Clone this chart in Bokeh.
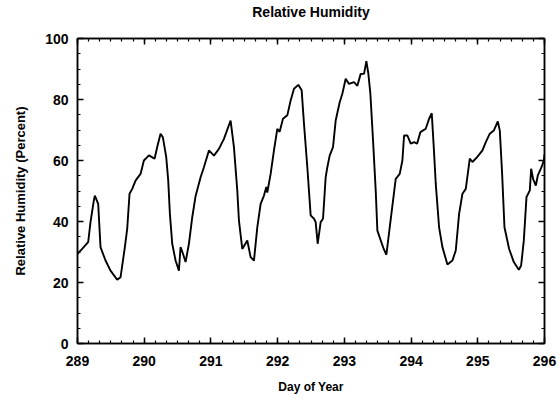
from bokeh.plotting import figure
from bokeh.models import LinearAxis, Range1d, FixedTicker, CustomLabelingPolicy
from bokeh.embed import file_html
from bokeh.resources import INLINE

day = [289.00, 289.07, 289.16, 289.195, 289.245, 289.26, 289.31, 289.345, 289.42, 289.495,
       289.595, 289.645, 289.71, 289.745, 289.78, 289.82, 289.87, 289.945, 289.995, 290.045,
       290.07, 290.155, 290.195, 290.245, 290.28, 290.33, 290.36, 290.385, 290.42, 290.47,
       290.52, 290.545, 290.58, 290.62, 290.67, 290.72, 290.77, 290.845, 290.895, 290.97,
       291.045, 291.12, 291.195, 291.295, 291.345, 291.395, 291.42, 291.47, 291.545, 291.595,
       291.645, 291.695, 291.745, 291.795, 291.83, 291.845, 291.895, 291.945, 291.995, 292.03,
       292.08, 292.145, 292.195, 292.245, 292.31, 292.36, 292.395, 292.445, 292.495, 292.545,
       292.57, 292.60, 292.645, 292.68, 292.72, 292.745, 292.78, 292.83, 292.87, 292.93,
       292.97, 293.02, 293.07, 293.145, 293.195, 293.245, 293.295, 293.33, 293.36, 293.39,
       293.43, 293.47, 293.495, 293.545, 293.59, 293.63, 293.68, 293.73, 293.77, 293.83,
       293.87, 293.895, 293.945, 293.995, 294.045, 294.09, 294.14, 294.22, 294.27, 294.31,
       294.34, 294.37, 294.42, 294.47, 294.545, 294.62, 294.67, 294.72, 294.77, 294.82,
       294.85, 294.88, 294.92, 294.99, 295.07, 295.12, 295.18, 295.24, 295.30, 295.33,
       295.365, 295.40, 295.47, 295.54, 295.615, 295.65, 295.69, 295.73, 295.78, 295.80,
       295.83, 295.87, 295.90, 295.955, 295.99, 296.00]

rh = [29.4, 31.0, 33.2, 39.8, 46.9, 48.5, 45.8, 31.6, 27.2, 23.9,
      20.9, 21.7, 31.6, 37.6, 49.1, 50.7, 53.4, 55.6, 60.0, 61.1,
      61.7, 60.6, 64.4, 68.8, 67.6, 61.1, 53.4, 42.5, 32.7, 27.2,
      23.9, 31.6, 29.5, 26.7, 32.7, 41.4, 48.3, 54.5, 57.8, 63.3,
      61.6, 63.8, 67.1, 73.1, 64.4, 50.2, 40.3, 31.0, 33.8, 28.3,
      27.2, 38.1, 45.8, 48.5, 51.3, 49.5, 55.6, 63.3, 70.4, 69.4,
      73.7, 74.8, 79.7, 83.5, 84.8, 83.0, 72.0, 57.8, 42.0, 40.9,
      39.8, 32.7, 39.8, 40.9, 54.5, 57.8, 61.6, 64.4, 73.1, 79.1,
      81.9, 86.8, 85.1, 85.7, 84.5, 88.4, 88.4, 92.6, 88.4, 81.9,
      66.6, 50.2, 37.0, 33.8, 31.0, 29.1, 38.1, 46.9, 54.0, 55.6,
      60.0, 68.2, 68.2, 65.5, 66.0, 65.5, 69.3, 70.4, 73.7, 75.5,
      64.4, 52.4, 38.1, 31.6, 25.9, 27.2, 30.5, 42.5, 49.1, 50.7,
      55.6, 60.6, 59.5, 61.1, 63.3, 66.0, 68.8, 69.8, 72.8, 69.8,
      55.6, 38.1, 31.0, 26.7, 24.2, 25.6, 33.8, 48.0, 50.2, 57.3,
      53.9, 51.8, 55.1, 57.8, 60.0, 62.0]

x_ticks = [289, 290, 291, 292, 293, 294, 295, 296]
y_ticks = [0, 20, 40, 60, 80, 100]
title_text = "Relative Humidity"

FONT = "Liberation Sans"

p = figure(width=560, height=401, output_backend="svg", toolbar_location=None, title=None,
           x_range=Range1d(289, 296), y_range=Range1d(0, 100),
           min_border_left=77, min_border_right=16, min_border_top=38, min_border_bottom=58,
           x_axis_label="Day of Year", y_axis_label="Relative Humidity (Percent)")
p.xgrid.visible = False
p.ygrid.visible = False
p.background_fill_color = "white"
p.border_fill_color = "white"
p.outline_line_color = "black"
p.outline_line_width = 1.5

def style(ax):
    ax.axis_line_color = "black"
    ax.axis_line_width = 1.5
    ax.major_tick_in = 6
    ax.major_tick_out = 0
    ax.minor_tick_in = 3
    ax.minor_tick_out = 0
    ax.major_tick_line_color = "black"
    ax.minor_tick_line_color = "black"
    ax.major_tick_line_width = 1.5
    ax.minor_tick_line_width = 1.2
    ax.major_label_text_font = FONT
    ax.major_label_text_font_style = "bold"
    ax.major_label_text_color = "black"
    ax.major_label_text_font_size = "14px"
    ax.axis_label_text_font = FONT
    ax.axis_label_text_font_style = "bold"
    ax.axis_label_text_color = "black"
    ax.axis_label_text_font_size = "12px"

x_minor = [289 + i / 6 for i in range(43)]
y_minor = list(range(0, 101, 5))

p.xaxis.ticker = FixedTicker(ticks=x_ticks, minor_ticks=x_minor)
p.yaxis.ticker = FixedTicker(ticks=y_ticks, minor_ticks=y_minor)
for ax in p.xaxis:
    style(ax)
    ax.major_label_standoff = 12
    ax.axis_label_standoff = 11
for ax in p.yaxis:
    style(ax)
    ax.major_label_standoff = 9
    ax.axis_label_standoff = 14
    ax.axis_label_text_font_size = "13px"

hide = CustomLabelingPolicy(code="""
try { for (const i of Array.from(indices)) { indices.unset(i) } } catch (e) {}
return indices
""")

top = LinearAxis(ticker=FixedTicker(ticks=x_ticks, minor_ticks=x_minor), axis_label=title_text)
style(top)
top.major_label_policy = hide
top.major_label_text_font_size = "0px"
top.major_label_standoff = 0
top.axis_label_text_font_size = "14px"
top.axis_label_standoff = 19
right = LinearAxis(ticker=FixedTicker(ticks=y_ticks, minor_ticks=y_minor))
style(right)
right.major_label_policy = hide
right.major_label_text_font_size = "0px"
right.major_label_standoff = 0
p.add_layout(top, "above")
p.add_layout(right, "right")

p.line(day, rh, line_color="black", line_width=1.9)

open("out.html", "w").write(file_html(p, INLINE))
